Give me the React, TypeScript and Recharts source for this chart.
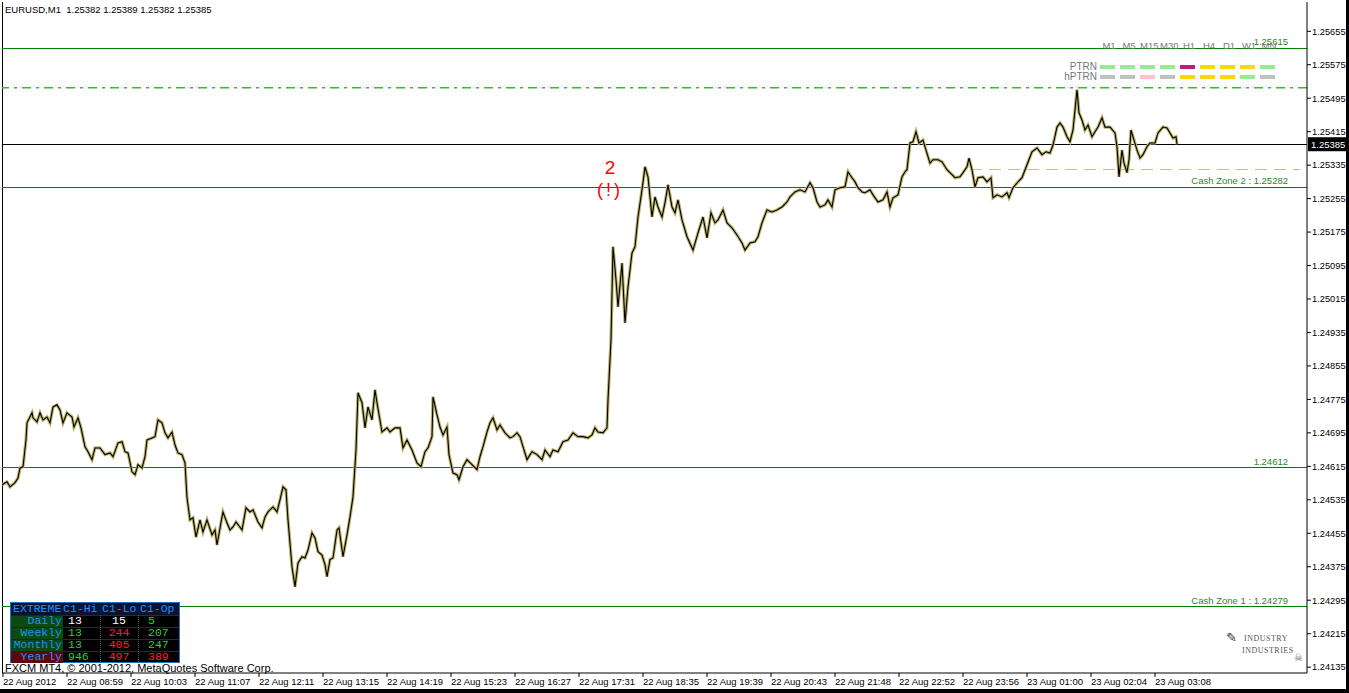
import React from 'react'
import {
  ComposedChart, Line, XAxis, YAxis, ReferenceLine, ReferenceDot,
} from 'recharts'

// minute offset from chart start (1 bar = 1 minute) and close price
const minute = [
  2, 7, 10, 15, 18, 20, 23, 26, 27, 32, 33, 37, 40, 43, 47, 50, 53, 57, 60, 63, 67, 72, 74, 78, 81, 85, 88, 92, 95, 100,
  105, 110, 113, 118, 122, 125, 128, 132, 135, 138, 142, 145, 147, 152, 155, 158, 162, 165, 168, 172, 175, 178, 182, 185, 187,
  190, 193, 196, 200, 203, 207, 212, 215, 217, 222, 223, 227, 230, 233, 236, 242, 246, 250, 253, 258, 262, 265, 268, 273, 277,
  280, 283, 286, 288, 292, 295, 298, 302, 305, 308, 312, 315, 318, 322, 325, 327, 330, 333, 337, 339, 343, 347, 350, 353, 356,
  358, 362, 365, 368, 372, 375, 377, 382, 387, 390, 395, 400, 403, 407, 412, 417, 421, 425, 428, 432, 433, 437, 440, 443, 447,
  449, 453, 457, 459, 463, 467, 472, 477, 480, 483, 487, 490, 493, 497, 500, 505, 510, 513, 517, 520, 523, 527, 532, 537, 542,
  545, 550, 553, 558, 563, 568, 573, 578, 583, 588, 592, 595, 598, 603, 607, 608, 610, 611, 613, 616, 618, 622, 625, 628, 632,
  635, 638, 642, 645, 648, 652, 655, 658, 662, 665, 668, 672, 675, 678, 682, 687, 693, 698, 703, 707, 711, 715, 718, 723, 727,
  732, 737, 742, 745, 750, 755, 758, 762, 767, 772, 777, 782, 787, 790, 795, 800, 805, 810, 813, 817, 820, 825, 828, 832, 835,
  840, 845, 848, 852, 855, 858, 862, 865, 870, 873, 878, 883, 887, 890, 893, 898, 902, 905, 907, 910, 913, 916, 919, 923, 926,
  930, 933, 938, 942, 947, 950, 955, 960, 963, 967, 969, 972, 975, 978, 983, 987, 991, 993, 997, 1002, 1007, 1009, 1013, 1018, 1022,
  1027, 1032, 1037, 1042, 1046, 1050, 1053, 1057, 1060, 1063, 1067, 1070, 1073, 1077, 1079, 1082, 1085, 1088, 1092, 1095, 1098, 1102, 1105, 1110,
  1115, 1117, 1119, 1122, 1124, 1127, 1129, 1131, 1134, 1137, 1140, 1143, 1147, 1150, 1155, 1158, 1163, 1167, 1170, 1173, 1176, 1177,
]
const close = [
  1.24571, 1.24578, 1.24566, 1.24576, 1.24587, 1.24611, 1.24614, 1.24678, 1.24719, 1.24743, 1.24731, 1.24721, 1.24743, 1.24726, 1.24733, 1.24719, 1.24757, 1.24762, 1.24750, 1.24719, 1.24743, 1.24733, 1.24709, 1.24731, 1.24707, 1.24662, 1.24650, 1.24631, 1.24659, 1.24659,
  1.24643, 1.24647, 1.24638, 1.24671, 1.24674, 1.24650, 1.24647, 1.24602, 1.24595, 1.24619, 1.24611, 1.24638, 1.24678, 1.24683, 1.24686, 1.24726, 1.24719, 1.24695, 1.24683, 1.24697, 1.24666, 1.24647, 1.24643, 1.24623, 1.24540,
  1.24487, 1.24492, 1.24446, 1.24487, 1.24458, 1.24487, 1.24451, 1.24463, 1.24427, 1.24494, 1.24506, 1.24480, 1.24463, 1.24470, 1.24482, 1.24463, 1.24516, 1.24506, 1.24511, 1.24482, 1.24468, 1.24494, 1.24506, 1.24518, 1.24506,
  1.24535, 1.24566, 1.24559, 1.24487, 1.24375, 1.24327, 1.24384, 1.24399, 1.24396, 1.24415, 1.24456, 1.24444, 1.24411, 1.24403, 1.24380, 1.24351, 1.24392, 1.24396, 1.24463, 1.24468, 1.24399, 1.24451, 1.24494, 1.24542, 1.24654,
  1.24791, 1.24767, 1.24707, 1.24757, 1.24726, 1.24798, 1.24767, 1.24697, 1.24707, 1.24697, 1.24707, 1.24707, 1.24659, 1.24678, 1.24654, 1.24623, 1.24614, 1.24650, 1.24659, 1.24686, 1.24781, 1.24738, 1.24709, 1.24690, 1.24709,
  1.24643, 1.24599, 1.24595, 1.24583, 1.24614, 1.24631, 1.24619, 1.24607, 1.24638, 1.24662, 1.24697, 1.24719, 1.24731, 1.24702, 1.24714, 1.24695, 1.24683, 1.24686, 1.24695, 1.24686, 1.24662, 1.24631, 1.24650, 1.24643, 1.24631,
  1.24654, 1.24638, 1.24654, 1.24650, 1.24674, 1.24678, 1.24695, 1.24686, 1.24686, 1.24683, 1.24690, 1.24707, 1.24697, 1.24695, 1.24707, 1.24774, 1.24870, 1.24917, 1.25140, 1.25061, 1.24996, 1.25101, 1.24958, 1.25044, 1.25125,
  1.25140, 1.25211, 1.25276, 1.25331, 1.25307, 1.25211, 1.25259, 1.25235, 1.25211, 1.25245, 1.25288, 1.25235, 1.25221, 1.25252, 1.25204, 1.25164, 1.25132, 1.25173, 1.25211, 1.25161, 1.25221, 1.25197, 1.25204, 1.25228, 1.25197,
  1.25185, 1.25168, 1.25149, 1.25132, 1.25149, 1.25152, 1.25164, 1.25197, 1.25228, 1.25223, 1.25228, 1.25235, 1.25247, 1.25259, 1.25271, 1.25276, 1.25271, 1.25293, 1.25281, 1.25247, 1.25235, 1.25240, 1.25252, 1.25235, 1.25276,
  1.25281, 1.25283, 1.25319, 1.25305, 1.25295, 1.25281, 1.25271, 1.25269, 1.25276, 1.25264, 1.25247, 1.25252, 1.25271, 1.25235, 1.25257, 1.25264, 1.25307, 1.25319, 1.25324, 1.25388, 1.25391, 1.25415, 1.25388, 1.25395, 1.25371,
  1.25340, 1.25348, 1.25348, 1.25343, 1.25324, 1.25317, 1.25305, 1.25307, 1.25317, 1.25331, 1.25352, 1.25324, 1.25283, 1.25305, 1.25307, 1.25295, 1.25305, 1.25257, 1.25264, 1.25259, 1.25269, 1.25257, 1.25281, 1.25295, 1.25305,
  1.25336, 1.25367, 1.25376, 1.25360, 1.25367, 1.25364, 1.25383, 1.25426, 1.25436, 1.25426, 1.25403, 1.25391, 1.25419, 1.25515, 1.25460, 1.25443, 1.25419, 1.25431, 1.25403, 1.25415, 1.25426, 1.25448, 1.25426, 1.25426,
  1.25412, 1.25379, 1.25307, 1.25371, 1.25340, 1.25317, 1.25348, 1.25419, 1.25395, 1.25371, 1.25352, 1.25360, 1.25379, 1.25388, 1.25388, 1.25412, 1.25426, 1.25424, 1.25412, 1.25400, 1.25403, 1.25385,
]

const timeTicks = [3, 67, 131, 195, 259, 323, 387, 451, 515, 579, 643, 707, 771, 835, 899, 963, 1027, 1091, 1155]
const timeLabels = [
  '22 Aug 2012', '22 Aug 08:59', '22 Aug 10:03', '22 Aug 11:07', '22 Aug 12:11', '22 Aug 13:15', '22 Aug 14:19',
  '22 Aug 15:23', '22 Aug 16:27', '22 Aug 17:31', '22 Aug 18:35', '22 Aug 19:39', '22 Aug 20:43', '22 Aug 21:48',
  '22 Aug 22:52', '22 Aug 23:56', '23 Aug 01:00', '23 Aug 02:04', '23 Aug 03:08',
]
const priceTicks = [
  1.24135, 1.24215, 1.24295, 1.24375, 1.24455, 1.24535, 1.24615, 1.24695, 1.24775, 1.24855,
  1.24935, 1.25015, 1.25095, 1.25175, 1.25255, 1.25335, 1.25415, 1.25495, 1.25575, 1.25655,
]

const lastPrice = 1.25385
const levelTop = 1.25615
const levelDashDot = 1.25520
const cashZone2 = 1.25282
const midLevel = 1.24612
const cashZone1 = 1.24279
const pivotDash = 1.25324

const tfNames = ['M1', 'M5', 'M15', 'M30', 'H1', 'H4', 'D1', 'W1', 'MN']
const ptrnColors = ['#90ee90', '#90ee90', '#90ee90', '#90ee90', '#c71585', '#ffd700', '#ffd700', '#ffd700', '#90ee90']
const hptrnColors = ['#c0c0c0', '#c0c0c0', '#ffc0cb', '#c0c0c0', '#ffd700', '#ffd700', '#ffd700', '#90ee90', '#c0c0c0']

const extremeRows = ['Daily', 'Weekly', 'Monthly', 'Yearly']
const extremeHi = ['13', '13', '13', '946']
const extremeLo = ['15', '244', '405', '497']
const extremeOp = ['5', '207', '247', '389']

const data = minute.map((m, i) => ({ m, c: close[i] }))

const FONT = '"Liberation Sans", Arial, sans-serif'
const MONO = '"Liberation Mono", "Courier New", monospace'

const LevelLabel = ({ text, color }: { text: string; color: string }) => (props: any) => {
  const vb = props.viewBox || {}
  return (
    <text x={vb.x + vb.width - 19} y={vb.y - 3} textAnchor="end" fill={color} fontSize={9.5} fontFamily={FONT}>{text}</text>
  )
}

const PriceBox = (props: any) => {
  const vb = props.viewBox || {}
  const x = vb.x + vb.width + 1
  return (
    <g>
      <rect x={x} y={vb.y - 7} width={38} height={14} fill="#000" />
      <text x={x + 3} y={vb.y + 4} fill="#fff" fontSize={9.5} fontFamily={FONT}>{lastPrice.toFixed(5)}</text>
    </g>
  )
}

const Alert = (props: any) => {
  const vb = props.viewBox || {}
  const cx = vb.x + (vb.width || 0) / 2
  const cy = vb.y + (vb.height || 0) / 2
  return (
    <g fill="#ff0000" fontFamily={FONT} textAnchor="middle">
      <text x={cx} y={cy - 13} fontSize={19}>2</text>
      <text x={cx} y={cy + 9} fontSize={18} letterSpacing={3}>(!)</text>
    </g>
  )
}

const TimeTick = (props: any) => {
  const { x, y, payload } = props
  const idx = timeTicks.indexOf(payload.value)
  return (
    <text x={x} y={y + 6} textAnchor="start" fill="#000" fontSize={9.5} fontFamily={FONT}>{timeLabels[idx]}</text>
  )
}

export default function App() {
  return (
    <div style={{ position: 'absolute', left: 0, top: 0, width: 1349, height: 693, background: '#000' }}>
      <div style={{ position: 'relative', width: 1346, height: 689, background: '#fff' }}>
        <ComposedChart width={1346} height={689} data={data} margin={{ top: 2, right: 0, bottom: 0, left: 2 }}>
          <XAxis
            dataKey="m" type="number" domain={[2, 1307]} allowDataOverflow ticks={timeTicks}
            tick={<TimeTick />} tickSize={4} height={16} stroke="#000" interval={0}
          />
          <YAxis
            orientation="right" type="number" domain={[1.24121, 1.25725]} allowDataOverflow ticks={priceTicks}
            tickFormatter={v => v.toFixed(5)} tick={{ fill: '#000', fontSize: 9.3, fontFamily: FONT }}
            tickSize={4} tickMargin={1} width={39} stroke="#000" interval={0}
          />
          <ReferenceLine x={2} stroke="#000" shapeRendering="crispEdges" />
          <ReferenceLine y={levelTop} stroke="#008000" shapeRendering="crispEdges" label={LevelLabel({ text: levelTop.toFixed(5), color: '#1f8a1f' })} />
          <ReferenceLine y={levelDashDot} stroke="#1ccc1c" strokeWidth={1.5} strokeDasharray="9 5 3 5" />
          <ReferenceLine y={cashZone2} stroke="#008000" shapeRendering="crispEdges" label={LevelLabel({ text: `Cash Zone 2 : ${cashZone2.toFixed(5)}`, color: '#1f8a1f' })} />
          <ReferenceLine y={midLevel} stroke="#008000" shapeRendering="crispEdges" label={LevelLabel({ text: midLevel.toFixed(5), color: '#1f8a1f' })} />
          <ReferenceLine y={cashZone1} stroke="#008000" shapeRendering="crispEdges" label={LevelLabel({ text: `Cash Zone 1 : ${cashZone1.toFixed(5)}`, color: '#1f8a1f' })} />
          <ReferenceLine segment={[{ x: 970, y: pivotDash }, { x: 1300, y: pivotDash }]} stroke="#c8c08a" strokeDasharray="12 7" shapeRendering="crispEdges" />
          <ReferenceLine y={lastPrice} stroke="#000" shapeRendering="crispEdges" label={PriceBox} />
          <Line dataKey="c" stroke="#bcb46e" strokeWidth={3.2} dot={false} isAnimationActive={false} />
          <Line dataKey="c" stroke="#000" strokeWidth={1.1} dot={false} isAnimationActive={false} />
          <ReferenceDot x={610} y={cashZone2} r={0} fill="none" stroke="none" label={Alert} />
        </ComposedChart>

        <div style={{ position: 'absolute', left: 5, top: 4, fontSize: 9.5, fontFamily: FONT, color: '#000', whiteSpace: 'pre' }}>
          EURUSD,M1  1.25382 1.25389 1.25382 1.25385
        </div>

        {tfNames.map((t, i) => (
          <div key={t} style={{ position: 'absolute', left: 1100 + i * 20, top: 40, width: 18, textAlign: 'center', fontSize: 9.5, fontFamily: FONT, color: '#777' }}>{t}</div>
        ))}
        <div style={{ position: 'absolute', left: 1050, top: 61, width: 47, textAlign: 'right', fontSize: 10, fontFamily: FONT, color: '#777' }}>PTRN</div>
        <div style={{ position: 'absolute', left: 1050, top: 71, width: 47, textAlign: 'right', fontSize: 10, fontFamily: FONT, color: '#777' }}>hPTRN</div>
        {ptrnColors.map((c, i) => (
          <div key={'p' + i} style={{ position: 'absolute', left: 1100 + i * 20, top: 65, width: 15, height: 4, background: c }} />
        ))}
        {hptrnColors.map((c, i) => (
          <div key={'h' + i} style={{ position: 'absolute', left: 1100 + i * 20, top: 75, width: 15, height: 4, background: c }} />
        ))}

        <div style={{ position: 'absolute', left: 10, top: 602, width: 170, height: 61, background: '#000', border: '1px solid #1e70c0', boxSizing: 'border-box', fontFamily: MONO, fontSize: 11.5, lineHeight: '12px' }}>
          <div style={{ position: 'absolute', left: 0, top: 0, width: 168, height: 12, background: '#0a1430' }} />
          <span style={{ position: 'absolute', left: 2, top: 0, color: '#1e90ff' }}>EXTREME</span>
          <span style={{ position: 'absolute', left: 52, top: 0, color: '#1e90ff' }}>C1-Hi</span>
          <span style={{ position: 'absolute', left: 91, top: 0, color: '#1e90ff' }}>C1-Lo</span>
          <span style={{ position: 'absolute', left: 129, top: 0, color: '#1e90ff' }}>C1-Op</span>
          {extremeRows.map((r, i) => (
            <React.Fragment key={r}>
              <div style={{ position: 'absolute', left: 0, top: 12 + i * 12, width: 52, height: 12, background: i === 3 ? '#5a0a0a' : '#0d4a12', borderTop: '1px solid #222', boxSizing: 'border-box' }} />
              <div style={{ position: 'absolute', left: 52, top: 12 + i * 12, width: 116, height: 12, borderTop: '1px solid #2a2a2a', boxSizing: 'border-box' }} />
              <span style={{ position: 'absolute', right: 117, top: 12 + i * 12, color: '#1e90ff', whiteSpace: 'pre' }}>{r}</span>
              <span style={{ position: 'absolute', left: 57, top: 12 + i * 12, color: i === 0 ? '#fff' : '#32cd32' }}>{extremeHi[i]}</span>
              <span style={{ position: 'absolute', left: 89, top: 12 + i * 12, width: 38, textAlign: 'center', color: i === 0 ? '#fff' : '#ff2020' }}>{extremeLo[i]}</span>
              <span style={{ position: 'absolute', left: 137, top: 12 + i * 12, color: i === 3 ? '#ff2020' : '#32cd32' }}>{extremeOp[i]}</span>
            </React.Fragment>
          ))}
          <div style={{ position: 'absolute', left: 89, top: 12, height: 47, borderLeft: '1px dotted #555' }} />
          <div style={{ position: 'absolute', left: 127, top: 12, height: 47, borderLeft: '1px dotted #555' }} />
        </div>

        <div style={{ position: 'absolute', left: 5, top: 663, fontSize: 11, lineHeight: '11px', fontFamily: FONT, color: '#000', whiteSpace: 'pre' }}>
          FXCM MT4, © 2001-2012, MetaQuotes Software Corp.
        </div>

        <div style={{ position: 'absolute', left: 1222, top: 628, width: 80, height: 38, fontFamily: '"Liberation Serif", serif', color: '#555' }}>
          <div style={{ position: 'absolute', left: 4, top: 2, fontSize: 13, color: '#333' }}>✎</div>
          <div style={{ position: 'absolute', left: 22, top: 6, fontSize: 8, letterSpacing: 0.5 }}>INDUSTRY</div>
          <div style={{ position: 'absolute', left: 20, top: 18, fontSize: 8, letterSpacing: 0.5 }}>INDUSTRIES</div>
          <div style={{ position: 'absolute', left: 72, top: 24, fontSize: 10, color: '#666' }}>☠</div>
        </div>
      </div>
    </div>
  )
}
